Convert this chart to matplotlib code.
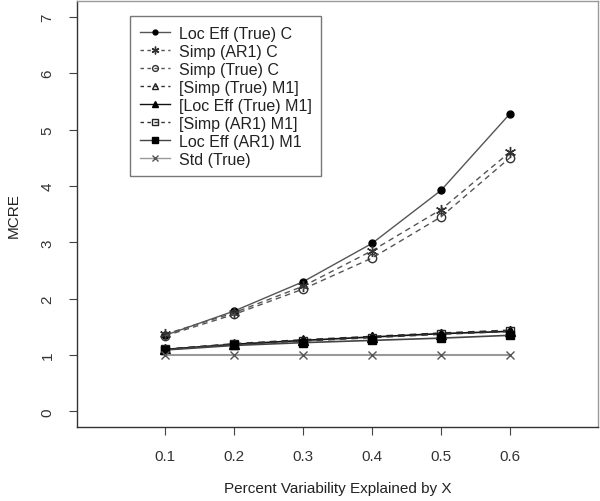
import matplotlib
matplotlib.use("Agg")
import matplotlib.pyplot as plt
from matplotlib.lines import Line2D

x = [0.1, 0.2, 0.3, 0.4, 0.5, 0.6]
loc_eff_true_c = [1.35, 1.78, 2.30, 2.98, 3.92, 5.28]
simp_ar1_c = [1.37, 1.75, 2.22, 2.85, 3.58, 4.60]
simp_true_c = [1.34, 1.72, 2.17, 2.72, 3.45, 4.50]
simp_true_m1 = [1.10, 1.20, 1.27, 1.33, 1.39, 1.44]
loc_eff_true_m1 = [1.10, 1.19, 1.26, 1.32, 1.38, 1.42]
simp_ar1_m1 = [1.10, 1.19, 1.25, 1.31, 1.37, 1.42]
loc_eff_ar1_m1 = [1.09, 1.17, 1.22, 1.26, 1.30, 1.35]
std_true = [1.0, 1.0, 1.0, 1.0, 1.0, 1.0]

labels = ["Loc Eff (True) C", "Simp (AR1) C", "Simp (True) C", "[Simp (True) M1]",
          "[Loc Eff (True) M1]", "[Simp (AR1) M1]", "Loc Eff (AR1) M1", "Std (True)"]
xticks = [0.1, 0.2, 0.3, 0.4, 0.5, 0.6]
yticks = [0, 1, 2, 3, 4, 5, 6, 7]

plt.rcParams['font.family'] = ['Liberation Sans', 'DejaVu Sans']
fig = plt.figure(figsize=(6.0, 5.02), dpi=100)
ax = fig.add_axes([0.128, 0.147, 0.869, 0.849])

dash = (0, (4, 3))
series = [
    (loc_eff_true_c, dict(color='#555555', ls='-', lw=1.0, marker='o', ms=5, mfc='black', mec='black')),
    (simp_ar1_c, dict(color='#555555', ls=dash, lw=1.0, marker=(6, 2, 0), ms=8, mfc='none', mec='#333333', mew=1.0)),
    (simp_true_c, dict(color='#555555', ls=dash, lw=1.0, marker='o', ms=6, mfc='none', mec='#333333', mew=1.0)),
    (simp_true_m1, dict(color='#333333', ls=dash, lw=1.2, marker='^', ms=6, mfc='none', mec='#222222')),
    (loc_eff_true_m1, dict(color='#111111', ls='-', lw=1.2, marker='^', ms=7, mfc='black', mec='black')),
    (simp_ar1_m1, dict(color='#333333', ls=dash, lw=1.2, marker='s', ms=6, mfc='none', mec='#222222')),
    (loc_eff_ar1_m1, dict(color='#444444', ls='-', lw=1.2, marker='s', ms=6, mfc='black', mec='black')),
    (std_true, dict(color='#999999', ls='-', lw=1.5, marker='x', ms=6, mfc='none', mec='#555555', mew=1.0)),
]
handles = []
for (vals, st), lab in zip(series, labels):
    ax.plot(x, vals, **st)
    lst = dict(st)
    lst['ms'] = st['ms'] * 0.7
    lst['lw'] = 1.0
    if lst['ls'] != '-':
        lst['ls'] = (0, (2.5, 2.5))
    handles.append(Line2D([], [], label=lab, **lst))

ax.set_xlim(-0.028, 0.728)
ax.set_ylim(-0.28, 7.28)
ax.set_xticks(xticks)
ax.set_xticklabels([f"{t:.1f}" for t in xticks])
ax.set_yticks(yticks)
ax.set_yticklabels([str(t) for t in yticks], rotation=90, va='center')
ax.tick_params(axis='x', direction='out', length=6, pad=10, labelsize=11, colors='#444444', labelcolor='#333333')
ax.tick_params(axis='y', direction='out', length=6, pad=10, labelsize=11, colors='#444444', labelcolor='#333333')
for s in ax.spines.values():
    s.set_color('#333333')
    s.set_linewidth(1.0)
ax.spines['right'].set_color('#999999')
ax.spines['top'].set_color('#999999')

ax.set_xlabel("Percent Variability Explained by X", fontsize=11, color='#222222', labelpad=13)
ax.set_ylabel("MCRE", fontsize=11, color='#222222', labelpad=14)

leg = ax.legend(handles=handles, loc='upper left', bbox_to_anchor=(0.102, 0.965),
                frameon=True, fancybox=False, fontsize=11.5, handlelength=1.9,
                borderpad=0.6, labelspacing=0.19, handletextpad=0.55, borderaxespad=0)
leg.get_frame().set_edgecolor('#555555')
leg.get_frame().set_linewidth(1.0)
for t in leg.get_texts():
    t.set_color('#222222')

fig.savefig("out.png", dpi=100)
